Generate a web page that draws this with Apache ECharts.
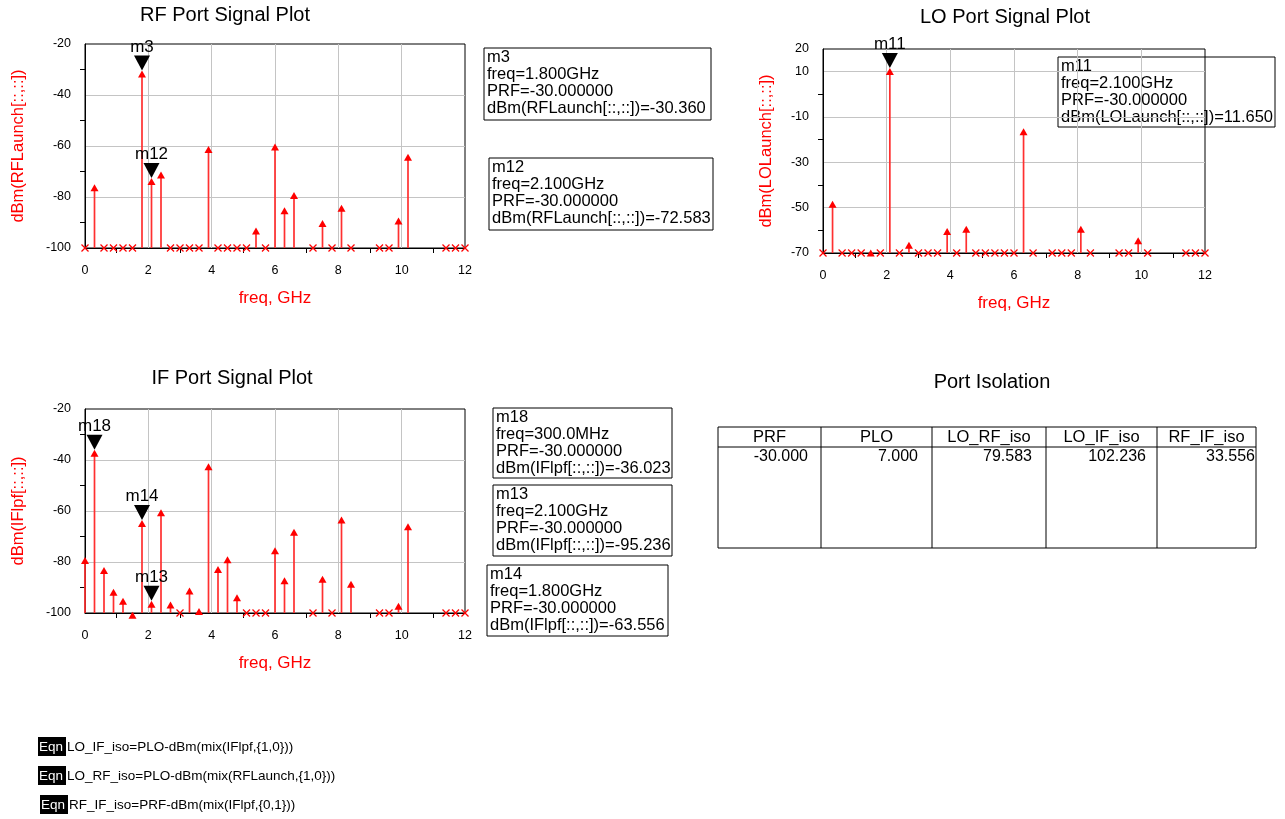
<!DOCTYPE html>
<html>
<head>
<meta charset="UTF-8">
<title>Port Signal Plots</title>
<style>
    html, body { margin: 0; padding: 0; background: #fff; }
    #myChart { width: 1285px; height: 819px; }
</style>
<script src="https://cdn.jsdelivr.net/npm/echarts@6/dist/echarts.min.js"></script>
</head>
<body>
<div id="myChart"></div>
<script>
// 频率点 (GHz)，三个端口共用
let freqs = [0, 0.3, 0.6, 0.9, 1.2, 1.5, 1.8, 2.1, 2.4, 2.7, 3.0, 3.3, 3.6, 3.9, 4.2, 4.5, 4.8, 5.1, 5.4, 5.7,
             6.0, 6.3, 6.6, 7.2, 7.5, 7.8, 8.1, 8.4, 9.3, 9.6, 9.9, 10.2, 11.4, 11.7, 12.0];

// dBm 值，低于坐标下限的点画成 x
let rfLaunch = [-130, -75, -130, -130, -130, -130, -30.36, -72.583, -70, -130, -130, -130, -130, -60, -130, -130, -130, -130, -92, -130,
                -59, -84, -78, -130, -89, -130, -83, -130, -130, -130, -88, -63, -130, -130, -130];
let loLaunch = [-130, -47, -130, -130, -130, -68.5, -130, 11.65, -130, -65, -130, -130, -130, -59, -130, -58, -130, -130, -130, -130,
                -130, -15, -130, -130, -130, -130, -58, -130, -130, -130, -63, -130, -130, -130, -130];
let ifLpf = [-78, -36.023, -82, -90.5, -94, -99.5, -63.556, -95.236, -59.3, -95.5, -130, -90, -98, -41.3, -81.6, -77.7, -92.6, -130, -130, -130,
             -74.2, -86, -67, -130, -85.4, -130, -62.2, -87.4, -130, -130, -96, -64.8, -130, -130, -130];

// 标记点
let rfMarkNames = ["m3", "m12"];
let rfMarkFreq = [1.8, 2.1];
let rfMarkVal = [-30.36, -72.583];
let loMarkNames = ["m11"];
let loMarkFreq = [2.1];
let loMarkVal = [11.65];
let ifMarkNames = ["m18", "m14", "m13"];
let ifMarkFreq = [0.3, 1.8, 2.1];
let ifMarkVal = [-36.023, -63.556, -95.236];

let prf = -30;

// 隔离度表格
let isoHeaders = ["PRF", "PLO", "LO_RF_iso", "LO_IF_iso", "RF_IF_iso"];
let isoValues = ["-30.000", "7.000", "79.583", "102.236", "33.556"];

let equations = [
    "LO_IF_iso=PLO-dBm(mix(IFlpf,{1,0}))",
    "LO_RF_iso=PLO-dBm(mix(RFLaunch,{1,0}))",
    "RF_IF_iso=PRF-dBm(mix(IFlpf,{0,1}))"
];

const FONT = "Liberation Sans, Arial, sans-serif";
const RED = "#ff0000";

function pairs(xs, ys) {
    return xs.map((x, i) => [x, ys[i]]);
}

// 谱线：竖线 + 三角箭头，低于下限画 x
function stemRender(floor) {
    return function (params, api) {
        let f = api.value(0), v = api.value(1);
        let base = api.coord([f, floor]);
        if (v <= floor) {
            let s = 3.5;
            return {
                type: "group", children: [
                    { type: "line", shape: { x1: base[0] - s, y1: base[1] - s, x2: base[0] + s, y2: base[1] + s }, style: { stroke: RED, lineWidth: 1.2 } },
                    { type: "line", shape: { x1: base[0] - s, y1: base[1] + s, x2: base[0] + s, y2: base[1] - s }, style: { stroke: RED, lineWidth: 1.2 } }
                ]
            };
        }
        let tip = api.coord([f, v]);
        return {
            type: "group", children: [
                { type: "line", shape: { x1: base[0], y1: base[1], x2: tip[0], y2: tip[1] + 5 }, style: { stroke: "#ff3030", lineWidth: 1.7 } },
                { type: "polygon", shape: { points: [[tip[0], tip[1]], [tip[0] - 4, tip[1] + 7], [tip[0] + 4, tip[1] + 7]] }, style: { fill: RED } }
            ]
        };
    };
}

function markerRender(names) {
    return function (params, api) {
        let p = api.coord([api.value(0), api.value(1)]);
        return {
            type: "group", children: [
                { type: "polygon", shape: { points: [[p[0], p[1]], [p[0] - 8, p[1] - 15], [p[0] + 8, p[1] - 15]] }, style: { fill: "#000" } },
                {
                    type: "text", style: {
                        text: names[params.dataIndex], x: p[0], y: p[1] - 15,
                        align: "center", textAlign: "center", verticalAlign: "bottom", textVerticalAlign: "bottom",
                        font: "17px " + FONT, fill: "#000"
                    }
                }
            ]
        };
    };
}

function fmtFreq(f) {
    return f >= 1 ? f.toFixed(3) + "GHz" : (f * 1000).toFixed(1) + "MHz";
}

function markerBox(x, y, w, h, name, f, v, expr) {
    let txt = [name, "freq=" + fmtFreq(f), "PRF=" + prf.toFixed(6), expr + "=" + v.toFixed(3)].join("\n");
    return {
        type: "group", x: x, y: y, children: [
            { type: "rect", shape: { x: 0, y: 0, width: w, height: h }, style: { fill: "none", stroke: "#000", lineWidth: 1 } },
            { type: "text", x: 3, y: 1, style: { text: txt, font: "16.5px " + FONT, fill: "#000", lineHeight: 17 } }
        ]
    };
}

function xAxisCfg(idx) {
    return {
        type: "value", gridIndex: idx, min: 0, max: 12, interval: 2,
        axisLine: { onZero: false, lineStyle: { color: "#000", width: 1 } },
        axisTick: { show: false },
        minorTick: { show: true, splitNumber: 2, length: 5, lineStyle: { color: "#000" } },
        axisLabel: { color: "#000", fontSize: 12.5, margin: 16, fontFamily: FONT },
        splitLine: { show: true, showMinLine: false, showMaxLine: false, lineStyle: { color: "#c4c4c4", width: 1 } },
        name: "freq, GHz", nameLocation: "middle", nameGap: 42,
        nameTextStyle: { color: RED, fontSize: 17, fontFamily: FONT }
    };
}

function yAxisCfg(idx, min, max, name, gap) {
    return {
        type: "value", gridIndex: idx, min: min, max: max, interval: 20,
        axisLine: { onZero: false, lineStyle: { color: "#000", width: 1 } },
        axisTick: { show: false },
        minorTick: { show: true, splitNumber: 2, length: 5, lineStyle: { color: "#000" } },
        axisLabel: { color: "#000", fontSize: 12.5, margin: 14, fontFamily: FONT },
        splitLine: { show: true, showMinLine: false, showMaxLine: false, lineStyle: { color: "#c4c4c4", width: 1 } },
        name: name, nameLocation: "middle", nameGap: gap,
        nameTextStyle: { color: RED, fontSize: 16.5, fontFamily: FONT }
    };
}

function titleText(x, y, text) {
    return { type: "text", x: x, y: y, style: { text: text, font: "20px " + FONT, fill: "#000", align: "center", textAlign: "center", verticalAlign: "middle", textVerticalAlign: "middle" } };
}

// 表格
let colEdges = [718, 821, 932, 1046, 1157, 1256];
let valRight = [808, 918, 1032, 1146, 1255];
let tableTop = 427, headLine = 447, tableBottom = 548;
let tableEls = [
    { type: "rect", shape: { x: colEdges[0], y: tableTop, width: colEdges[5] - colEdges[0], height: tableBottom - tableTop }, style: { fill: "none", stroke: "#000", lineWidth: 1 } },
    { type: "line", shape: { x1: colEdges[0], y1: headLine, x2: colEdges[5], y2: headLine }, style: { stroke: "#000", lineWidth: 1 } }
];
for (let i = 1; i < 5; i++) {
    tableEls.push({ type: "line", shape: { x1: colEdges[i], y1: tableTop, x2: colEdges[i], y2: tableBottom }, style: { stroke: "#000", lineWidth: 1 } });
}
isoHeaders.forEach((h, i) => {
    tableEls.push({ type: "text", x: (colEdges[i] + colEdges[i + 1]) / 2, y: 437, style: { text: h, font: "16.5px " + FONT, fill: "#000", align: "center", textAlign: "center", verticalAlign: "middle", textVerticalAlign: "middle" } });
});
isoValues.forEach((v, i) => {
    tableEls.push({ type: "text", x: valRight[i], y: 457, style: { text: v, font: "16px " + FONT, fill: "#000", align: "right", textAlign: "right", verticalAlign: "middle", textVerticalAlign: "middle" } });
});

// 方程
let eqnEls = [];
let eqnX = [38, 38, 40];
equations.forEach((e, i) => {
    let y = 737 + i * 29;
    eqnEls.push({ type: "rect", shape: { x: eqnX[i], y: y, width: 28, height: 19 }, style: { fill: "#000" } });
    eqnEls.push({ type: "text", x: eqnX[i] + 1, y: y + 10, style: { text: "Eqn", font: "13.5px " + FONT, fill: "#fff", verticalAlign: "middle", textVerticalAlign: "middle" } });
    eqnEls.push({ type: "text", x: eqnX[i] + 29, y: y + 10, style: { text: e, font: "13.5px " + FONT, fill: "#000", verticalAlign: "middle", textVerticalAlign: "middle" } });
});

let myEcharts = echarts.init(document.querySelector("#myChart"), null, { renderer: "canvas" });

let option = {
    animation: false,
    backgroundColor: "#fff",
    textStyle: { fontFamily: FONT },
    grid: [
        { left: 85, top: 44, width: 380, height: 204, show: true, borderColor: "#000", borderWidth: 1, backgroundColor: "transparent" },
        { left: 823, top: 49, width: 382, height: 204, show: true, borderColor: "#000", borderWidth: 1, backgroundColor: "transparent" },
        { left: 85, top: 409, width: 380, height: 204, show: true, borderColor: "#000", borderWidth: 1, backgroundColor: "transparent" }
    ],
    xAxis: [xAxisCfg(0), xAxisCfg(1), xAxisCfg(2)],
    yAxis: [
        yAxisCfg(0, -100, -20, "dBm(RFLaunch[::,::])", 58),
        yAxisCfg(1, -70, 20, "dBm(LOLaunch[::,::])", 48),
        yAxisCfg(2, -100, -20, "dBm(IFlpf[::,::])", 58)
    ],
    series: [
        { type: "custom", xAxisIndex: 0, yAxisIndex: 0, clip: false, renderItem: stemRender(-100), data: pairs(freqs, rfLaunch) },
        { type: "custom", xAxisIndex: 1, yAxisIndex: 1, clip: false, renderItem: stemRender(-70), data: pairs(freqs, loLaunch) },
        { type: "custom", xAxisIndex: 2, yAxisIndex: 2, clip: false, renderItem: stemRender(-100), data: pairs(freqs, ifLpf) },
        { type: "custom", xAxisIndex: 0, yAxisIndex: 0, clip: false, z: 5, renderItem: markerRender(rfMarkNames), data: pairs(rfMarkFreq, rfMarkVal) },
        { type: "custom", xAxisIndex: 1, yAxisIndex: 1, clip: false, z: 5, renderItem: markerRender(loMarkNames), data: pairs(loMarkFreq, loMarkVal) },
        { type: "custom", xAxisIndex: 2, yAxisIndex: 2, clip: false, z: 5, renderItem: markerRender(ifMarkNames), data: pairs(ifMarkFreq, ifMarkVal) }
    ],
    graphic: [
        titleText(225, 15, "RF Port Signal Plot"),
        titleText(1005, 17, "LO Port Signal Plot"),
        titleText(232, 378, "IF Port Signal Plot"),
        titleText(992, 382, "Port Isolation"),
        markerBox(484, 48, 227, 72, rfMarkNames[0], rfMarkFreq[0], rfMarkVal[0], "dBm(RFLaunch[::,::])"),
        markerBox(489, 158, 224, 72, rfMarkNames[1], rfMarkFreq[1], rfMarkVal[1], "dBm(RFLaunch[::,::])"),
        markerBox(1058, 57, 217, 70, loMarkNames[0], loMarkFreq[0], loMarkVal[0], "dBm(LOLaunch[::,::])"),
        markerBox(493, 408, 179, 70, ifMarkNames[0], ifMarkFreq[0], ifMarkVal[0], "dBm(IFlpf[::,::])"),
        markerBox(493, 485, 179, 71, ifMarkNames[2], ifMarkFreq[2], ifMarkVal[2], "dBm(IFlpf[::,::])"),
        markerBox(487, 565, 181, 71, ifMarkNames[1], ifMarkFreq[1], ifMarkVal[1], "dBm(IFlpf[::,::])")
    ].concat(tableEls, eqnEls)
};
myEcharts.setOption(option, true);
</script>
</body>
</html>
